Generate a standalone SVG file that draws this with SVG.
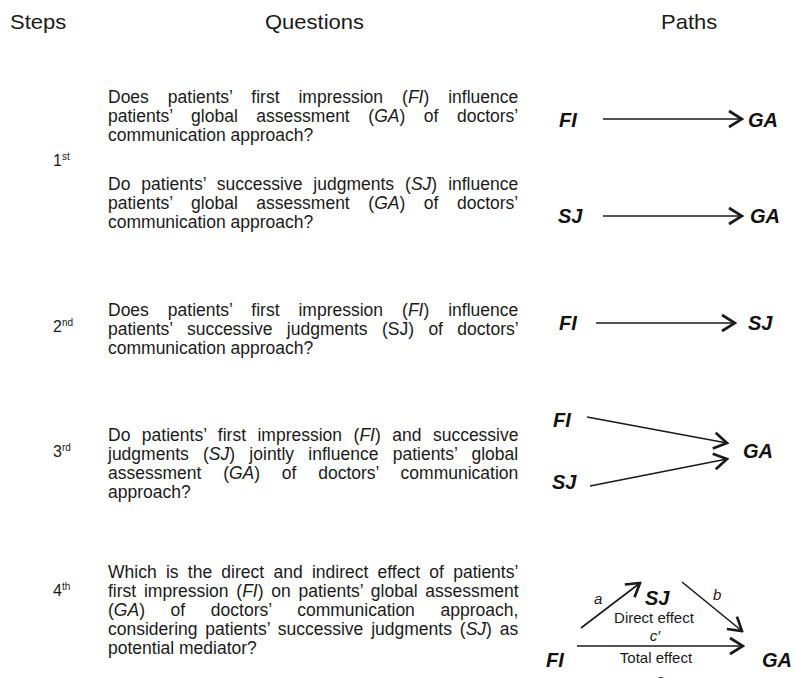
<svg xmlns="http://www.w3.org/2000/svg" width="795" height="678" viewBox="0 0 795 678">
<style>
text{font-family:"Liberation Sans",Arial,Helvetica,sans-serif;fill:#1a1a1a}
.h{font-size:20px}
.q{font-size:17.5px}
.st{font-size:16px}
.sup{font-size:10px}
.i{font-style:italic}
.n{font-size:20px;font-weight:bold;font-style:italic;fill:#111}
.s{font-size:15px}
.e{stroke:#1a1a1a;stroke-width:1.6;fill:none}
</style>
<defs>
<marker id="ah" viewBox="-2 -2 17 20" markerWidth="17" markerHeight="20" refX="13" refY="8" orient="auto" markerUnits="userSpaceOnUse">
<path d="M0,0 L13,8 L0,16" fill="none" stroke="#1a1a1a" stroke-width="2.7"/>
</marker>
</defs>
<g id="headers">
<text class="h" transform="translate(10 29) scale(1.1 1)">Steps</text>
<text class="h" transform="translate(265 29) scale(1.1 1)">Questions</text>
<text class="h" transform="translate(661 29) scale(1.1 1)">Paths</text>
</g>
<g id="steps">
<text class="st" x="53" y="166">1<tspan class="sup" dy="-6">st</tspan></text>
<text class="st" x="53" y="332">2<tspan class="sup" dy="-6">nd</tspan></text>
<text class="st" x="53" y="457">3<tspan class="sup" dy="-6">rd</tspan></text>
<text class="st" x="53" y="596">4<tspan class="sup" dy="-6">th</tspan></text>
</g>
<g id="question-1a">
<text class="q" word-spacing="14.1" x="108" y="103">Does patients’ first impression (<tspan class="i">FI</tspan>) influence</text>
<text class="q" word-spacing="13.7" x="108" y="122">patients’ global assessment (<tspan class="i">GA</tspan>) of doctors’</text>
<text class="q" x="108" y="141">communication approach?</text>
</g>
<g id="question-1b">
<text class="q" word-spacing="6.1" x="108" y="190">Do patients’ successive judgments (<tspan class="i">SJ</tspan>) influence</text>
<text class="q" word-spacing="13.7" x="108" y="209">patients’ global assessment (<tspan class="i">GA</tspan>) of doctors’</text>
<text class="q" x="108" y="228">communication approach?</text>
</g>
<g id="question-2">
<text class="q" word-spacing="14.1" x="108" y="316">Does patients’ first impression (<tspan class="i">FI</tspan>) influence</text>
<text class="q" word-spacing="9.5" x="108" y="335">patients’ successive judgments (SJ) of doctors’</text>
<text class="q" x="108" y="354">communication approach?</text>
</g>
<g id="question-3">
<text class="q" word-spacing="6.6" x="108" y="441">Do patients’ first impression (<tspan class="i">FI</tspan>) and successive</text>
<text class="q" word-spacing="9.4" x="108" y="460">judgments (<tspan class="i">SJ</tspan>) jointly influence patients’ global</text>
<text class="q" word-spacing="16.9" x="108" y="479">assessment (<tspan class="i">GA</tspan>) of doctors’ communication</text>
<text class="q" x="108" y="498">approach?</text>
</g>
<g id="question-4">
<text class="q" word-spacing="4.4" x="108" y="578">Which is the direct and indirect effect of patients’</text>
<text class="q" word-spacing="2.9" x="108" y="597">first impression (<tspan class="i">FI</tspan>) on patients’ global assessment</text>
<text class="q" word-spacing="20.8" x="108" y="616">(<tspan class="i">GA</tspan>) of doctors’ communication approach,</text>
<text class="q" word-spacing="3.0" x="108" y="635">considering patients’ successive judgments (<tspan class="i">SJ</tspan>) as</text>
<text class="q" x="108" y="654">potential mediator?</text>
</g>
<g id="path-nodes">
<g id="p1-FI"><text class="n" x="559" y="127">FI</text></g>
<g id="p1-GA"><text class="n" x="748" y="127">GA</text></g>
<g id="p2-SJ"><text class="n" x="558" y="223">SJ</text></g>
<g id="p2-GA"><text class="n" x="750" y="223">GA</text></g>
<g id="p3-FI"><text class="n" x="559" y="330">FI</text></g>
<g id="p3-SJ"><text class="n" x="748" y="330">SJ</text></g>
<g id="p4-FI"><text class="n" x="553" y="427">FI</text></g>
<g id="p4-GA"><text class="n" x="743" y="458">GA</text></g>
<g id="p4-SJ"><text class="n" x="552" y="489">SJ</text></g>
<g id="p5-SJ"><text class="n" x="645" y="605">SJ</text></g>
<g id="p5-FI"><text class="n" x="546" y="667">FI</text></g>
<g id="p5-GA"><text class="n" x="762" y="667">GA</text></g>
</g>
<g id="connectors">
<line class="e" x1="603" y1="119" x2="742" y2="119" marker-end="url(#ah)"/>
<line class="e" x1="603" y1="216" x2="742" y2="216" marker-end="url(#ah)"/>
<line class="e" x1="596" y1="323" x2="735" y2="323" marker-end="url(#ah)"/>
<line class="e" x1="587" y1="417" x2="727" y2="443" marker-end="url(#ah)"/>
<line class="e" x1="590" y1="486" x2="727" y2="459" marker-end="url(#ah)"/>
<line class="e" x1="581" y1="628" x2="640" y2="583" marker-end="url(#ah)"/>
<line class="e" x1="682" y1="582" x2="742" y2="631" marker-end="url(#ah)"/>
<line class="e" x1="577" y1="646" x2="743" y2="646" marker-end="url(#ah)"/>
</g>
<g id="effect-labels">
<text class="s i" x="594" y="604">a</text>
<text class="s i" x="713" y="600">b</text>
<text class="s" x="654" y="623" text-anchor="middle">Direct effect</text>
<text class="s i" x="655" y="641" text-anchor="middle">c′</text>
<text class="s" x="656" y="663" text-anchor="middle">Total effect</text>
<text class="s i" x="660" y="685" text-anchor="middle">c</text>
</g>
</svg>
